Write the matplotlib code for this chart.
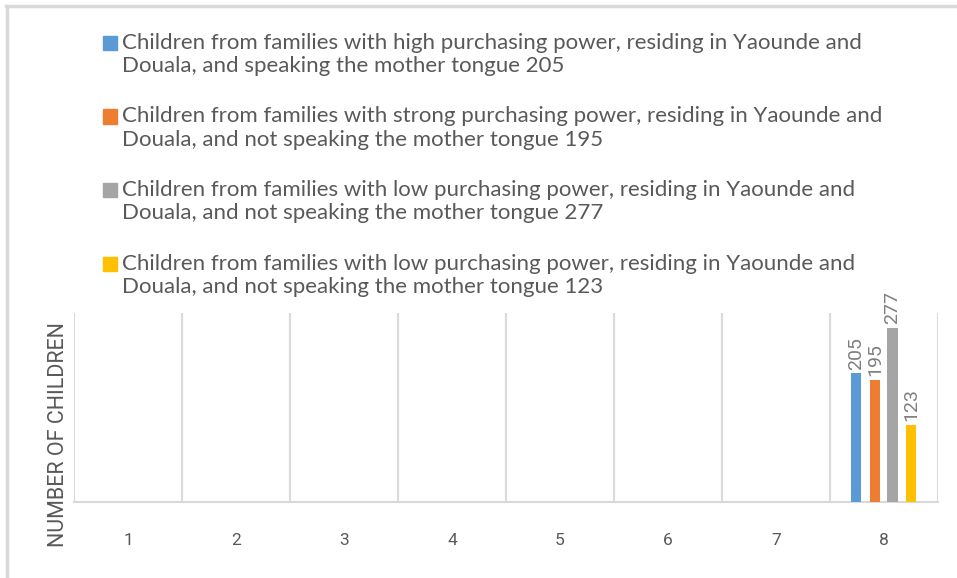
#!/usr/bin/env python3
import numpy as np
import matplotlib.pyplot as plt
from matplotlib.patches import Rectangle
from matplotlib.lines import Line2D

categories = ["1", "2", "3", "4", "5", "6", "7", "8"]
series_names = [
    "Children from families with high purchasing power, residing in Yaounde and\nDouala, and speaking the mother tongue 205",
    "Children from families with strong purchasing power, residing in Yaounde and\nDouala, and not speaking the mother tongue 195",
    "Children from families with low purchasing power, residing in Yaounde and\nDouala, and not speaking the mother tongue 277",
    "Children from families with low purchasing power, residing in Yaounde and\nDouala, and not speaking the mother tongue 123",
]
values = [205, 195, 277, 123]
colors = ["#5b9bd5", "#ed7d31", "#a5a5a5", "#ffc000"]
bar_category = 8
ylabel = "NUMBER OF CHILDREN"

W, H = 957, 578
fig = plt.figure(figsize=(W / 100, H / 100), dpi=100)
ax = fig.add_axes([74 / W, 1 - 502 / H, (938 - 74) / W, (502 - 313) / H])

offsets = [-0.26, -0.083, 0.079, 0.25]
for v, c, off in zip(values, colors, offsets):
    x = bar_category + off
    ax.bar(x, v, width=0.095, color=c, zorder=3)
    ax.text(x, v + 6, str(v), rotation=90, ha="center", va="bottom",
            fontsize=14, color="#7f7f7f", family="Roboto", clip_on=False)

ax.set_xlim(0.5, 8.5)
ax.set_ylim(0, 301)
ax.set_xticks(np.arange(1, 9))
ax.set_xticklabels(categories, family="Roboto", fontsize=12.5, color="#595959")
ax.set_yticks([])
for b in np.arange(0.5, 9.0, 1.0):
    ax.axvline(b, color="#d9d9d9", lw=1.5, zorder=1)
for s in ["top", "right", "left"]:
    ax.spines[s].set_visible(False)
ax.spines["bottom"].set_color("#d9d9d9")
ax.spines["bottom"].set_linewidth(1.5)
ax.tick_params(axis="x", length=0, pad=22)
ax.set_ylabel(ylabel, family="Roboto", fontsize=15.5, color="#595959")
ax.yaxis.set_label_coords(-0.006, 0.355)

# legend drawn by hand
y0 = 43
step = 73.5
for i, (name, c) in enumerate(zip(series_names, colors)):
    yc = y0 + i * step
    fig.patches.append(Rectangle((103 / W, 1 - (yc + 7) / H), 14 / W, 14 / H,
                                 transform=fig.transFigure, color=c))
    fig.text(122 / W, 1 - (yc - 10) / H, name, family="Lato", fontsize=16,
             color="#595959", va="top", ha="left", linespacing=1.2)

# chart border (top and left only visible)
fig.add_artist(Line2D([6 / W, 1], [1 - 6 / H, 1 - 6 / H], color="#d9d9d9", lw=2.5,
                      transform=fig.transFigure))
fig.add_artist(Line2D([7 / W, 7 / W], [0, 1 - 6 / H], color="#d9d9d9", lw=2.5,
                      transform=fig.transFigure))

fig.savefig("out.png", dpi=100)
